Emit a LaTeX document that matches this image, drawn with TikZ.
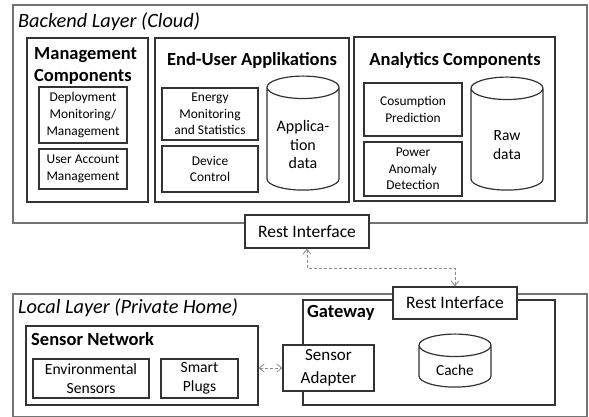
\documentclass[tikz,border=0pt]{standalone}
\usepackage{fontspec}
\setmainfont{Carlito}
\usetikzlibrary{shapes.geometric,arrows.meta}

\newcommand{\cylfill}{\rule{68pt}{0pt}}

\tikzset{
  layerbox/.style={draw=black!55, line width=1.2pt, minimum width=#1},
  compbox/.style={draw=black!80, line width=1.2pt, fill=white},
  itembox/.style={draw=black!80, line width=1.2pt, fill=white, align=center,
    font=\fontsize{13.4}{16.5}\selectfont, inner sep=1pt},
  dbcyl/.style={cylinder, shape border rotate=90, aspect=0.33, draw=black!80,
    line width=1.2pt, fill=white, minimum width=72pt, inner sep=0pt},
  dbtext/.style={align=center, inner sep=0pt},
  boxtitle/.style={font=\fontsize{18.5}{22}\selectfont\bfseries, inner sep=0pt},
  layertitle/.style={font=\fontsize{20.3}{24}\selectfont\itshape, inner sep=0pt, anchor=west},
  link/.style={draw=black!45, densely dashed, line width=0.8pt,
    {Straight Barb[length=5pt,width=8pt]}-{Straight Barb[length=5pt,width=8pt]}}
}

\begin{document}
\begin{tikzpicture}[x=1pt, y=-1pt]
  \useasboundingbox (0,0) rectangle (589,417);

  % backend layer
  \node[layerbox=574pt, minimum height=218pt] (backend) at (300,114) {};
  \node[layertitle] (backendtitle) at (18,22) {Backend Layer (Cloud)};

  \node[compbox, minimum width=121pt, minimum height=164pt] (mgmt) at (87.5,120) {};
  \node[boxtitle, align=left, anchor=west] (mgmttitle) at (34,66) {Management\\Components};
  \node[itembox, minimum width=88pt, minimum height=56pt] (deploy) at (83,115) {Deployment\\Monitoring/\\Management};
  \node[itembox, minimum width=88pt, minimum height=40pt] (useracc) at (83,169) {User Account\\Management};

  \node[compbox, minimum width=194pt, minimum height=164pt] (enduser) at (252,120) {};
  \node[boxtitle] (endusertitle) at (252,60) {End-User Applikations};
  \node[itembox, minimum width=96pt, minimum height=52pt] (energy) at (210,114) {Energy\\Monitoring\\and Statistics};
  \node[itembox, minimum width=96pt, minimum height=46pt] (device) at (210,169) {Device\\Control};
  \node[dbcyl, minimum height=114pt] (appdata) at (303,139) {\cylfill};
  \node[dbtext, font=\fontsize{16}{18.5}\selectfont] (appdatatext) at (303,145) {Applica-\\tion\\data};

  \node[compbox, minimum width=201pt, minimum height=164pt] (analytics) at (454.5,119) {};
  \node[boxtitle] (analyticstitle) at (455,60) {Analytics Components};
  \node[itembox, minimum width=98pt, minimum height=53pt] (cosump) at (413,109.5) {Cosumption\\Prediction};
  \node[itembox, minimum width=98pt, minimum height=54pt] (anomaly) at (413,169) {Power\\Anomaly\\Detection};
  \node[dbcyl, minimum height=113pt] (rawdata) at (507,139.5) {\cylfill};
  \node[dbtext, font=\fontsize{15.5}{19}\selectfont] (rawdatatext) at (507,145) {Raw\\data};

  \node[compbox, minimum width=124pt, minimum height=33pt, font=\fontsize{17.5}{20}\selectfont] (restcloud) at (307,231.5) {Rest Interface};

  % local layer
  \node[layerbox=574pt, minimum height=123pt] (local) at (300,355.5) {};
  \node[layertitle] (localtitle) at (18,308) {Local Layer (Private Home)};

  \node[compbox, minimum width=232pt, minimum height=79pt] (sensnet) at (142,365.5) {};
  \node[boxtitle, anchor=west] (sensnettitle) at (31,339) {Sensor Network};
  \node[itembox, minimum width=116pt, minimum height=39pt, font=\fontsize{15.6}{19}\selectfont] (envsens) at (91,378.5) {Environmental\\Sensors};
  \node[itembox, minimum width=77pt, minimum height=39pt, font=\fontsize{15.6}{19}\selectfont] (plugs) at (199.5,378.5) {Smart\\Plugs};

  \node[compbox, minimum width=252pt, minimum height=105pt] (gateway) at (429,352.5) {};
  \node[boxtitle, anchor=west] (gatewaytitle) at (307,313) {Gateway};
  \node[compbox, minimum width=124pt, minimum height=32pt, font=\fontsize{17.5}{20}\selectfont] (resthome) at (455,303) {Rest Interface};
  \node[compbox, minimum width=91pt, minimum height=46pt, align=center, inner sep=0pt, font=\fontsize{17}{23}\selectfont] (adapter) at (328.5,368) {Sensor\\Adapter};
  \node[dbcyl, minimum height=53pt] (cache) at (455,366.5) {\cylfill};
  \node[dbtext, font=\fontsize{15.3}{18}\selectfont] (cachetext) at (455,370) {Cache};

  % connections
  \coordinate (bend) at (0,268);
  \draw[link] (restcloud.south) -- (restcloud.south |- bend) -| (resthome.north);
  \draw[link] (adapter.west -| sensnet.east) -- (adapter.west);
\end{tikzpicture}
\end{document}
